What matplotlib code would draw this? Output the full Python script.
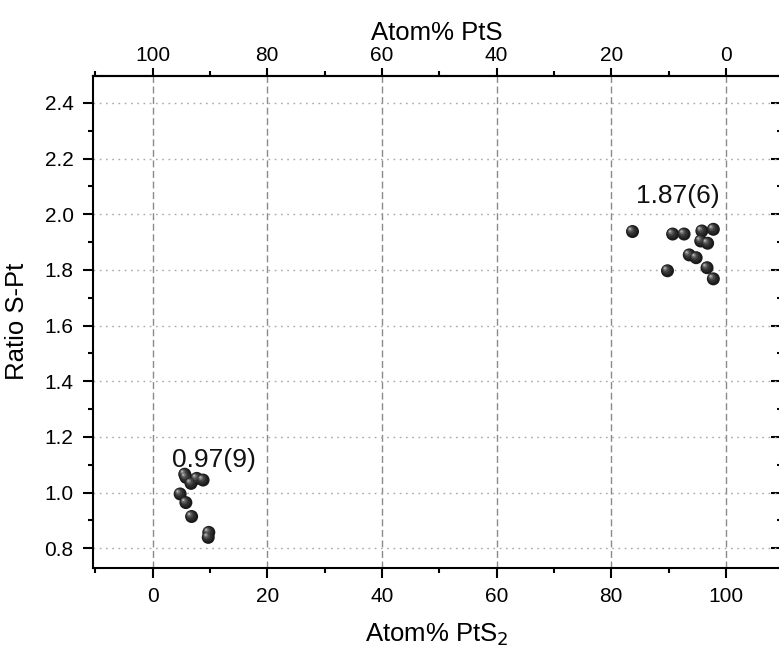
import numpy as np
import matplotlib
matplotlib.use('Agg')
import matplotlib.pyplot as plt
from matplotlib.ticker import MultipleLocator
from matplotlib.transforms import offset_copy

plt.rcParams['font.family'] = ['Liberation Sans', 'DejaVu Sans']
plt.rcParams['lines.scale_dashes'] = False

# PtS2-rich cluster (left) and PtS-rich cluster (right)
x_pts2 = [5.6, 5.8, 7.7, 8.8, 6.7, 4.8, 5.8, 6.8, 9.8, 9.7]
y_pts2 = [1.066, 1.055, 1.051, 1.045, 1.033, 0.995, 0.964, 0.914, 0.857, 0.839]

x_pts = [83.7, 90.7, 92.7, 95.8, 97.8, 95.6, 96.8, 93.6, 94.8, 89.8, 96.7, 97.8]
y_pts = [1.938, 1.929, 1.929, 1.940, 1.946, 1.904, 1.896, 1.854, 1.844, 1.797, 1.808, 1.768]

labels = ['0.97(9)', '1.87(6)']
label_x = [10.7, 91.6]
label_y = [1.092, 2.04]

fig = plt.figure(figsize=(7.79, 6.5), dpi=100)
ax = fig.add_axes([93/779, 82/650, 688/779, 492.3/650])

xs = x_pts2 + x_pts
ys = y_pts2 + y_pts

# shaded spheres: dark base plus a lighter highlight towards upper left
layers = [(13.0, '#1a1a1a', 0, 0),
          (10.0, '#2c2c2c', -0.8, 0.8),
          (7.0, '#474747', -1.6, 1.6),
          (4.5, '#707070', -2.2, 2.2),
          (2.2, '#b0b0b0', -2.6, 2.6)]
for d, c, dx, dy in layers:
    tr = offset_copy(ax.transData, fig=fig, x=dx, y=dy, units='dots')
    ax.scatter(xs, ys, s=(d*0.72)**2, color=c, edgecolors='none',
               transform=tr, zorder=3)

for t, lx, ly in zip(labels, label_x, label_y):
    ax.text(lx, ly, t, ha='center', va='baseline', fontsize=19, color='#111111')

ax.set_xlim(-10.4, 109.6)
ax.set_ylim(0.729, 2.498)
ax.set_xticks([0, 20, 40, 60, 80, 100])
ax.set_yticks([0.8, 1.0, 1.2, 1.4, 1.6, 1.8, 2.0, 2.2, 2.4])
ax.xaxis.set_minor_locator(MultipleLocator(10))
ax.yaxis.set_minor_locator(MultipleLocator(0.1))

for g in [0, 20, 40, 60, 80, 100]:
    ax.axvline(g, color='#8a8a8a', lw=1.0, ls=(0, (5, 2.6)), zorder=1)
for g in [0.8, 1.0, 1.2, 1.4, 1.6, 1.8, 2.0, 2.2, 2.4]:
    ax.axhline(g, color='#a8a8a8', lw=1.0, ls=(0, (1.2, 3.3)), zorder=1)

for s in ['left', 'bottom', 'top']:
    ax.spines[s].set_linewidth(1.5)
ax.spines['right'].set_visible(False)

ax.tick_params(axis='both', which='major', direction='out', length=7, width=1.5,
               labelsize=15, pad=7)
ax.tick_params(axis='both', which='minor', direction='out', length=3.5, width=1.5)
ax.tick_params(axis='x', top=False)
ax.tick_params(axis='y', right=False)

ax.set_xlabel('Atom% PtS$_2$', fontsize=18.5, labelpad=11)
ax.set_ylabel('Ratio S-Pt', fontsize=18.5, labelpad=11)

top = ax.secondary_xaxis('top', functions=(lambda v: 100 - v, lambda v: 100 - v))
top.set_xticks([100, 80, 60, 40, 20, 0])
top.xaxis.set_minor_locator(MultipleLocator(10))
top.tick_params(which='major', direction='out', length=6, width=1.5, labelsize=15, pad=2)
top.tick_params(which='minor', direction='out', length=3.5, width=1.5)
top.spines['top'].set_linewidth(1.5)
top.set_xlabel('Atom% PtS', fontsize=18.5, labelpad=4)

right = ax.secondary_yaxis('right')
right.set_yticks([0.8, 1.0, 1.2, 1.4, 1.6, 1.8, 2.0, 2.2, 2.4])
right.yaxis.set_minor_locator(MultipleLocator(0.1))
right.tick_params(which='major', direction='in', length=7, width=1.5, labelright=False)
right.tick_params(which='minor', direction='in', length=3, width=1.5)
right.spines['right'].set_visible(False)

fig.savefig('out.png', dpi=100)
